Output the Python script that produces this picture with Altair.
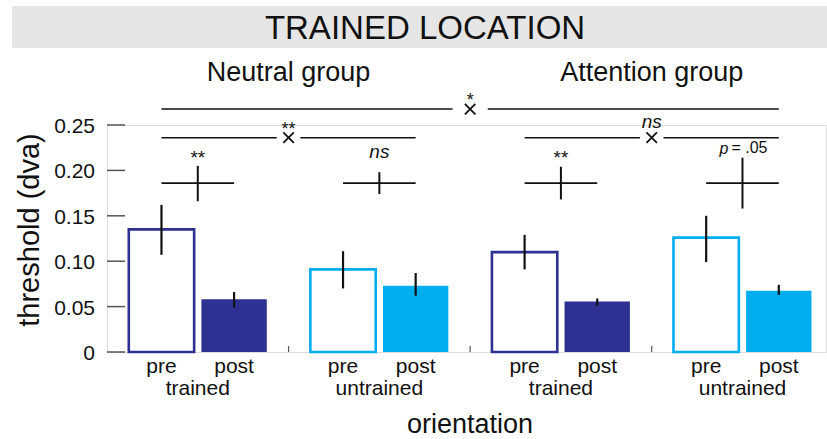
import altair as alt
import pandas as pd

# ---- chart values ----
title_text = "TRAINED LOCATION"
group_names = ["Neutral group", "Attention group"]
orientation_names = ["trained", "untrained", "trained", "untrained"]
session_names = ["pre", "post"]
x_title = "orientation"
y_title = "threshold (dva)"

# mean threshold and error-bar ends, bars ordered pre/post within each block
threshold_mean = [0.135, 0.058, 0.091, 0.073, 0.110, 0.0555, 0.126, 0.0675]
threshold_lo = [0.107, 0.049, 0.070, 0.062, 0.091, 0.051, 0.099, 0.063]
threshold_hi = [0.162, 0.066, 0.111, 0.087, 0.129, 0.059, 0.150, 0.074]

# pre-vs-post effect interval for each orientation block
effect_lo = [0.166, 0.174, 0.168, 0.158]
effect_hi = [0.205, 0.198, 0.204, 0.214]
effect_labels = ["**", "ns", "**", "p = .05"]

# trained-vs-untrained comparison within each group, and between groups
interaction_labels = ["**", "ns"]
between_group_label = "*"

y_tick_values = [0, 0.05, 0.10, 0.15, 0.20, 0.25]
y_tick_labels = ["0", "0.05", "0.10", "0.15", "0.20", "0.25"]

# ---- layout ----
W, H = 719, 227
X_MAX = 3.96
BAR_HALF = 0.18
DARK = "#2e3192"
LIGHT = "#00aeef"
AXIS_GREY = "#555555"
INK = "#111111"
FONT = "Liberation Sans"
CROSS_Y = 0.186
EFFECT_LABEL_Y = 0.219
INTER_Y = 0.236
INTER_LABEL_Y = 0.250
GROUP_Y = 0.2676
GROUP_LABEL_Y = 0.282
X_SHAPE = "M-1,-1L1,1M-1,1L1,-1"

xs = alt.Scale(domain=[0, X_MAX], nice=False, zero=False)
ys = alt.Scale(domain=[0, 0.25], nice=False)
color_scale = alt.Scale(domain=["trained", "untrained"], range=[DARK, LIGHT])

bars = pd.DataFrame({
    "block": [i // 2 for i in range(8)],
    "session": [session_names[i % 2] for i in range(8)],
    "orientation": [orientation_names[i // 2] for i in range(8)],
    "mean": threshold_mean,
    "lo": threshold_lo,
    "hi": threshold_hi,
})
bars["xc"] = bars["block"] + bars["session"].map({"pre": 0.3, "post": 0.7})
bars["x1"] = bars["xc"] - BAR_HALF
bars["x2"] = bars["xc"] + BAR_HALF
bars["zero"] = 0.0

blocks = pd.DataFrame({
    "block": list(range(4)),
    "orientation": orientation_names,
    "lo": effect_lo,
    "hi": effect_hi,
    "label": effect_labels,
})
blocks["xa"] = blocks["block"] + 0.3
blocks["xb"] = blocks["block"] + 0.7
blocks["xc"] = blocks["block"] + 0.5
blocks["cy"] = CROSS_Y
blocks["ly"] = EFFECT_LABEL_Y

ticks_df = pd.DataFrame({"v": y_tick_values, "t": y_tick_labels})

one = alt.Data(values=[{}])

# empty pre bars (outlined) drawn first, carrying the axis lines
pre_bars = alt.Chart(bars).transform_filter(alt.datum.session == "pre").mark_rect(
    fill="white", strokeWidth=2.6
).encode(
    x=alt.X("x1:Q", scale=xs, axis=alt.Axis(
        title=None, labels=False, ticks=False, grid=False,
        domainColor=AXIS_GREY, domainWidth=1.5)),
    x2="x2:Q",
    y=alt.Y("mean:Q", scale=ys, axis=alt.Axis(
        title=None, labels=False, ticks=False, grid=False,
        domainColor=AXIS_GREY, domainWidth=1.5)),
    y2="zero:Q",
    stroke=alt.Stroke("orientation:N", scale=color_scale, legend=None),
)

post_bars = alt.Chart(bars).transform_filter(alt.datum.session == "post").mark_rect().encode(
    x=alt.X("x1:Q", scale=xs, axis=None),
    x2="x2:Q",
    y=alt.Y("mean:Q", scale=ys, axis=None),
    y2="zero:Q",
    fill=alt.Fill("orientation:N", scale=color_scale, legend=None),
)

err_bars = alt.Chart(bars).mark_rule(color=INK, strokeWidth=2.2).encode(
    x=alt.X("xc:Q", scale=xs, axis=None),
    y=alt.Y("lo:Q", scale=ys, axis=None),
    y2="hi:Q",
)

# inward y ticks and their labels
y_ticks = alt.Chart(ticks_df).mark_rule(color=AXIS_GREY, strokeWidth=1.5).encode(
    x=alt.value(0), x2=alt.value(18),
    y=alt.Y("v:Q", scale=ys, axis=None),
)
y_labels = alt.Chart(ticks_df).mark_text(
    font=FONT, fontSize=21, color=INK, align="right", baseline="middle", dy=2
).encode(
    x=alt.value(-12),
    y=alt.Y("v:Q", scale=ys, axis=None),
    text="t:N",
)

# small upward ticks between blocks
block_ticks = alt.Chart(pd.DataFrame({"b": [1, 2, 3]})).mark_rule(
    color=AXIS_GREY, strokeWidth=1.2
).encode(
    x=alt.X("b:Q", scale=xs, axis=None),
    y=alt.value(H), y2=alt.value(H - 6),
)

# pre-post effect crosses
cross_h = alt.Chart(blocks).mark_rule(color=INK, strokeWidth=1.6).encode(
    x=alt.X("xa:Q", scale=xs, axis=None), x2="xb:Q",
    y=alt.Y("cy:Q", scale=ys, axis=None),
)
cross_v = alt.Chart(blocks).mark_rule(color=INK, strokeWidth=2.0).encode(
    x=alt.X("xc:Q", scale=xs, axis=None),
    y=alt.Y("lo:Q", scale=ys, axis=None), y2="hi:Q",
)

effect_star = alt.Chart(blocks).transform_filter(alt.datum.label == "**").mark_text(
    font=FONT, fontSize=19, color=INK, baseline="middle", dy=5
).encode(
    x=alt.X("xc:Q", scale=xs, axis=None),
    y=alt.Y("ly:Q", scale=ys, axis=None),
    text="label:N",
)
effect_ns = alt.Chart(blocks).transform_filter(alt.datum.label == "ns").mark_text(
    font=FONT, fontSize=19, fontStyle="italic", color=INK, baseline="middle", dy=-1
).encode(
    x=alt.X("xc:Q", scale=xs, axis=None),
    y=alt.Y("ly:Q", scale=ys, axis=None),
    text="label:N",
)
p_rows = blocks[blocks["label"].str.startswith("p")].copy()
p_rows["p"] = p_rows["label"].str[0]
p_rows["rest"] = p_rows["label"].str[2:]
effect_p = alt.Chart(p_rows).mark_text(
    font=FONT, fontSize=16, fontStyle="italic", color=INK, baseline="middle",
    align="right", dx=-14, dy=-4
).encode(
    x=alt.X("xc:Q", scale=xs, axis=None),
    y=alt.Y("ly:Q", scale=ys, axis=None),
    text="p:N",
)
effect_rest = alt.Chart(p_rows).mark_text(
    font=FONT, fontSize=16, color=INK, baseline="middle",
    align="left", dx=-11, dy=-5
).encode(
    x=alt.X("xc:Q", scale=xs, axis=None),
    y=alt.Y("ly:Q", scale=ys, axis=None),
    text="rest:N",
)

# comparison lines with x markers
seg_rows = []
mark_rows = []
for g, lab in enumerate(interaction_labels):
    c = 2 * g + 1.0
    seg_rows.append({"a": 2 * g + 0.3, "b": c - 0.065, "y": INTER_Y})
    seg_rows.append({"a": c + 0.065, "b": 2 * g + 1.7, "y": INTER_Y})
    mark_rows.append({"x": c, "y": INTER_Y, "ly": INTER_LABEL_Y, "label": lab})
seg_rows.append({"a": 0.3, "b": 1.903, "y": GROUP_Y})
seg_rows.append({"a": 2.097, "b": 3.7, "y": GROUP_Y})
mark_rows.append({"x": 2.0, "y": GROUP_Y, "ly": GROUP_LABEL_Y, "label": between_group_label})
segs = pd.DataFrame(seg_rows)
marks = pd.DataFrame(mark_rows)

comp_lines = alt.Chart(segs).mark_rule(color=INK, strokeWidth=1.6).encode(
    x=alt.X("a:Q", scale=xs, axis=None), x2="b:Q",
    y=alt.Y("y:Q", scale=ys, axis=None),
)
comp_x = alt.Chart(marks).mark_point(
    shape=X_SHAPE, filled=False, color=INK, strokeWidth=1.8, size=110, opacity=1
).encode(
    x=alt.X("x:Q", scale=xs, axis=None),
    y=alt.Y("y:Q", scale=ys, axis=None),
)
comp_star = alt.Chart(marks).transform_filter(alt.datum.label != "ns").mark_text(
    font=FONT, fontSize=18, color=INK, baseline="middle", dy=5
).encode(
    x=alt.X("x:Q", scale=xs, axis=None),
    y=alt.Y("ly:Q", scale=ys, axis=None),
    text="label:N",
)
comp_ns = alt.Chart(marks).transform_filter(alt.datum.label == "ns").mark_text(
    font=FONT, fontSize=19, fontStyle="italic", color=INK, baseline="middle", dy=-3
).encode(
    x=alt.X("x:Q", scale=xs, axis=None),
    y=alt.Y("ly:Q", scale=ys, axis=None),
    text="label:N",
)

# x labels: session under each bar, orientation under each block
session_lbl = alt.Chart(bars).mark_text(
    font=FONT, fontSize=21, color=INK, baseline="alphabetic"
).encode(
    x=alt.X("xc:Q", scale=xs, axis=None),
    y=alt.value(248),
    text="session:N",
)
orient_lbl = alt.Chart(blocks).mark_text(
    font=FONT, fontSize=21, color=INK, baseline="alphabetic"
).encode(
    x=alt.X("xc:Q", scale=xs, axis=None),
    y=alt.value(270),
    text="orientation:N",
)
group_lbl = alt.Chart(pd.DataFrame({"g": group_names, "x": [1.0, 3.0]})).mark_text(
    font=FONT, fontSize=27, color=INK, baseline="alphabetic"
).encode(
    x=alt.X("x:Q", scale=xs, axis=None),
    y=alt.value(-44),
    text="g:N",
)

x_title_mark = alt.Chart(one).mark_text(
    text=x_title, font=FONT, fontSize=27, color=INK, baseline="alphabetic"
).encode(x=alt.value(363), y=alt.value(308))

y_title_mark = alt.Chart(one).mark_text(
    text=y_title, font=FONT, fontSize=29, color=INK, angle=270,
    align="center", baseline="middle"
).encode(x=alt.value(-77), y=alt.value(105))

banner = alt.Chart(one).mark_rect(color="#e6e6e6").encode(
    x=alt.value(-95), x2=alt.value(721), y=alt.value(-119), y2=alt.value(-77)
)
banner_text = alt.Chart(one).mark_text(
    text=title_text, font=FONT, fontSize=33, color=INK, baseline="alphabetic"
).encode(x=alt.value(318), y=alt.value(-86))

chart = alt.layer(
    pre_bars, post_bars, err_bars, y_ticks, y_labels, block_ticks,
    cross_h, cross_v, effect_star, effect_ns, effect_p, effect_rest,
    comp_lines, comp_x, comp_star, comp_ns,
    session_lbl, orient_lbl, group_lbl, x_title_mark, y_title_mark,
    banner, banner_text,
).properties(
    width=W, height=H,
    autosize=alt.AutoSizeParams(type="none"),
    padding={"left": 107, "top": 125, "right": 1, "bottom": 87},
).configure_view(strokeWidth=0).configure(font=FONT)

chart.save("out.html", embed_options={"renderer": "svg", "actions": False})
